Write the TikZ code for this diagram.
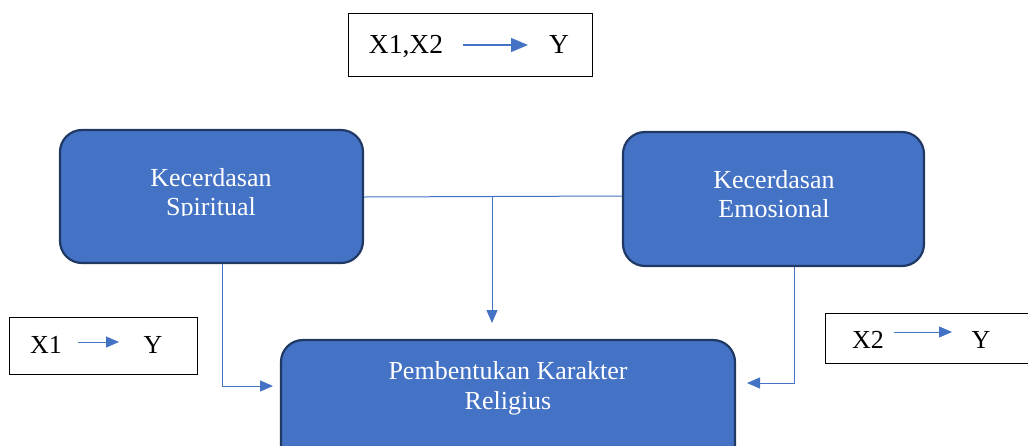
\documentclass[tikz,border=0pt]{standalone}
\usepackage{fontspec}
\setmainfont{Liberation Serif}
\usetikzlibrary{arrows.meta}
\definecolor{fillblue}{HTML}{4472C4}
\definecolor{edgeblue}{HTML}{203864}
\tikzset{
  blockbox/.style={draw=edgeblue, line width=2.2pt, fill=fillblue, rounded corners=22pt, inner sep=0pt, rectangle},
  labelbox/.style={draw=black, line width=1pt, fill=white, inner sep=0pt, rectangle},
  conn/.style={draw=fillblue, line width=1pt, -{Triangle[length=13pt,width=11pt]}},
  bigarrow/.style={draw=fillblue, line width=1.2pt, -{Triangle[length=17pt,width=14pt]}},
  btext/.style={text=white, font=\fontsize{26}{29}\selectfont, anchor=base, inner sep=0pt},
  ltext/.style={text=black, font=\fontsize{26}{29}\selectfont, anchor=base, inner sep=0pt},
  ttext/.style={text=black, font=\fontsize{27.5}{30}\selectfont, anchor=base, inner sep=0pt}
}
\begin{document}
\begin{tikzpicture}[x=1pt,y=-1pt]
\clip (0,0) rectangle (1028,445);
\fill[white] (0,0) rectangle (1028,445);

% blue blocks
\node[blockbox, minimum width=303pt, minimum height=133pt] (ks) at (211.5,196.5) {};
\node[blockbox, minimum width=301pt, minimum height=134pt] (ke) at (773.5,199) {};
\node[blockbox, minimum width=454pt, minimum height=130pt] (pk) at (508,405) {};

% texts in blocks (second lines clipped as in the reference)
\node[btext] (ks1) at (211,186) {Kecerdasan};
\begin{scope}
\clip (100,190) rectangle (330,215);
\node[btext] (ks2) at (211,215) {Spiritual};
\end{scope}
\node[btext] (ke1) at (774,188) {Kecerdasan};
\begin{scope}
\clip (660,192) rectangle (890,218);
\node[btext] (ke2) at (774,217) {Emosional};
\end{scope}
\node[btext] (pk1) at (508,379) {Pembentukan Karakter};
\node[btext] (pk2) at (508,409) {Religius};

% label boxes
\node[labelbox, minimum width=244pt, minimum height=63pt] (top) at (470,44.5) {};
\node[ttext] (tx) at (406,53) {X1,X2};
\node[ttext] (ty) at (559,53) {Y};
\coordinate (ta) at (463,45);
\coordinate (tb) at (528,45);
\draw[bigarrow] (ta) -- (tb);

\node[labelbox, minimum width=188pt, minimum height=57pt] (lb) at (103,345.5) {};
\node[ltext] (lx) at (46,353) {X1};
\node[ltext] (ly) at (153,353) {Y};
\coordinate (la) at (78,342);
\coordinate (lbb) at (119,342);
\draw[conn] (la) -- (lbb);

\node[labelbox, minimum width=220pt, minimum height=50pt] (rb) at (935,338) {};
\node[ltext] (rx) at (868,348) {X2};
\node[ltext] (ry) at (981,348) {Y};
\coordinate (ra) at (894,332);
\coordinate (rbb) at (952,332);
\draw[conn] (ra) -- (rbb);

% connectors
\draw[draw=fillblue, line width=1pt] (ks.east |- 0,197) -- (ke.west |- 0,196);
\coordinate (mid) at (492,197);
\coordinate (midend) at (492,323);
\draw[conn] (mid) -- (midend);
\coordinate (lturn) at (222,386);
\draw[conn] (ks.south -| lturn) -- (lturn) -- (273,386);
\coordinate (rturn) at (794,383);
\draw[conn] (ke.south -| rturn) -- (rturn) -- (747,383);
\end{tikzpicture}
\end{document}
